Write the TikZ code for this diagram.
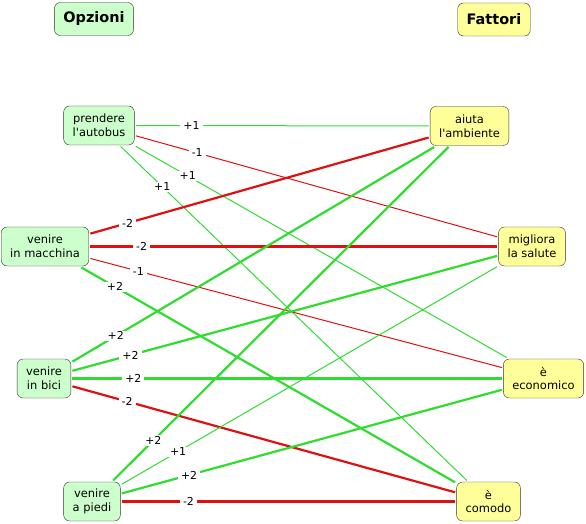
\documentclass[tikz,border=0pt]{standalone}
\usepackage{fontspec}
\setmainfont{DejaVu Sans}
\usetikzlibrary{positioning}

\definecolor{optfill}{HTML}{CCFFCC}
\definecolor{facfill}{HTML}{FFFF99}
\definecolor{plusline}{HTML}{2EDD2E}
\definecolor{minusline}{HTML}{DD1111}
\newcommand{\apo}{\textquotesingle}

\begin{document}
\begin{tikzpicture}[
        x=1bp, y=-1bp,
        box/.style={draw=black!80, rounded corners=6bp, align=center, inner xsep=9bp, minimum height=39bp, outer sep=1.5bp, font=\fontsize{11.5}{14}\selectfont},
        optnode/.style={box, fill=optfill},
        facnode/.style={box, fill=facfill},
        header/.style={draw=black!80, rounded corners=6bp, minimum height=33bp, inner xsep=9bp, font=\fontsize{14.5}{17}\selectfont\bfseries},
        plus/.style={draw=plusline, line width=1bp},
        plusplus/.style={draw=plusline, line width=2.2bp},
        minus/.style={draw=minusline, line width=1bp},
        minusminus/.style={draw=minusline, line width=2.2bp},
        lbl/.style={fill=white, inner xsep=3bp, inner ysep=1bp, font=\fontsize{11}{12}\selectfont}
    ]
    \useasboundingbox (0,0) rectangle (586,524);

    % headers
    \node (opz) at (94,19) [header, fill=optfill] {Opzioni};
    \node (fat) at (494,19.5) [header, fill=facfill] {Fattori};

    % options
    \node (bus) at (99,125.5) [optnode] {prendere\\l\apo autobus};
    \node (auto) at (45,246.5) [optnode] {venire\\in macchina};
    \node (bici) at (44,378.5) [optnode] {venire\\in bici};
    \node (piedi) at (92,501.5) [optnode] {venire\\a piedi};

    % factors
    \node (amb) at (469.5,126) [facnode] {aiuta\\l\apo ambiente};
    \node (sal) at (532,246.5) [facnode] {migliora\\la salute};
    \node (eco) at (543.5,378.5) [facnode] {è\\economico};
    \node (com) at (488.5,501.5) [facnode] {è\\comodo};

    % autobus
    \draw[plus] (bus) -- node[lbl, pos=0.19] {+1} (amb);
    \draw[minus] (bus) -- node[lbl, pos=0.17] {-1} (sal);
    \draw[plus] (bus) -- node[lbl, pos=0.14] {+1} (eco);
    \draw[plus] (bus) -- node[lbl, pos=0.12] {+1} (com);

    % macchina
    \draw[minusminus] (auto) -- node[lbl, pos=0.11] {-2} (amb);
    \draw[minusminus] (auto) -- node[lbl, pos=0.126] {-2} (sal);
    \draw[minus] (auto) -- node[lbl, pos=0.117] {-1} (eco);
    \draw[plusplus] (auto) -- node[lbl, pos=0.09] {+2} (com);

    % bici
    \draw[plusplus] (bici) -- node[lbl, pos=0.12] {+2} (amb);
    \draw[plusplus] (bici) -- node[lbl, pos=0.137] {+2} (sal);
    \draw[plusplus] (bici) -- node[lbl, pos=0.142] {+2} (eco);
    \draw[minusminus] (bici) -- node[lbl, pos=0.143] {-2} (com);

    % piedi
    \draw[plusplus] (piedi) -- node[lbl, pos=0.12] {+2} (amb);
    \draw[plus] (piedi) -- node[lbl, pos=0.15] {+1} (sal);
    \draw[plusplus] (piedi) -- node[lbl, pos=0.177] {+2} (eco);
    \draw[minusminus] (piedi) -- node[lbl, pos=0.2] {-2} (com);
\end{tikzpicture}
\end{document}
